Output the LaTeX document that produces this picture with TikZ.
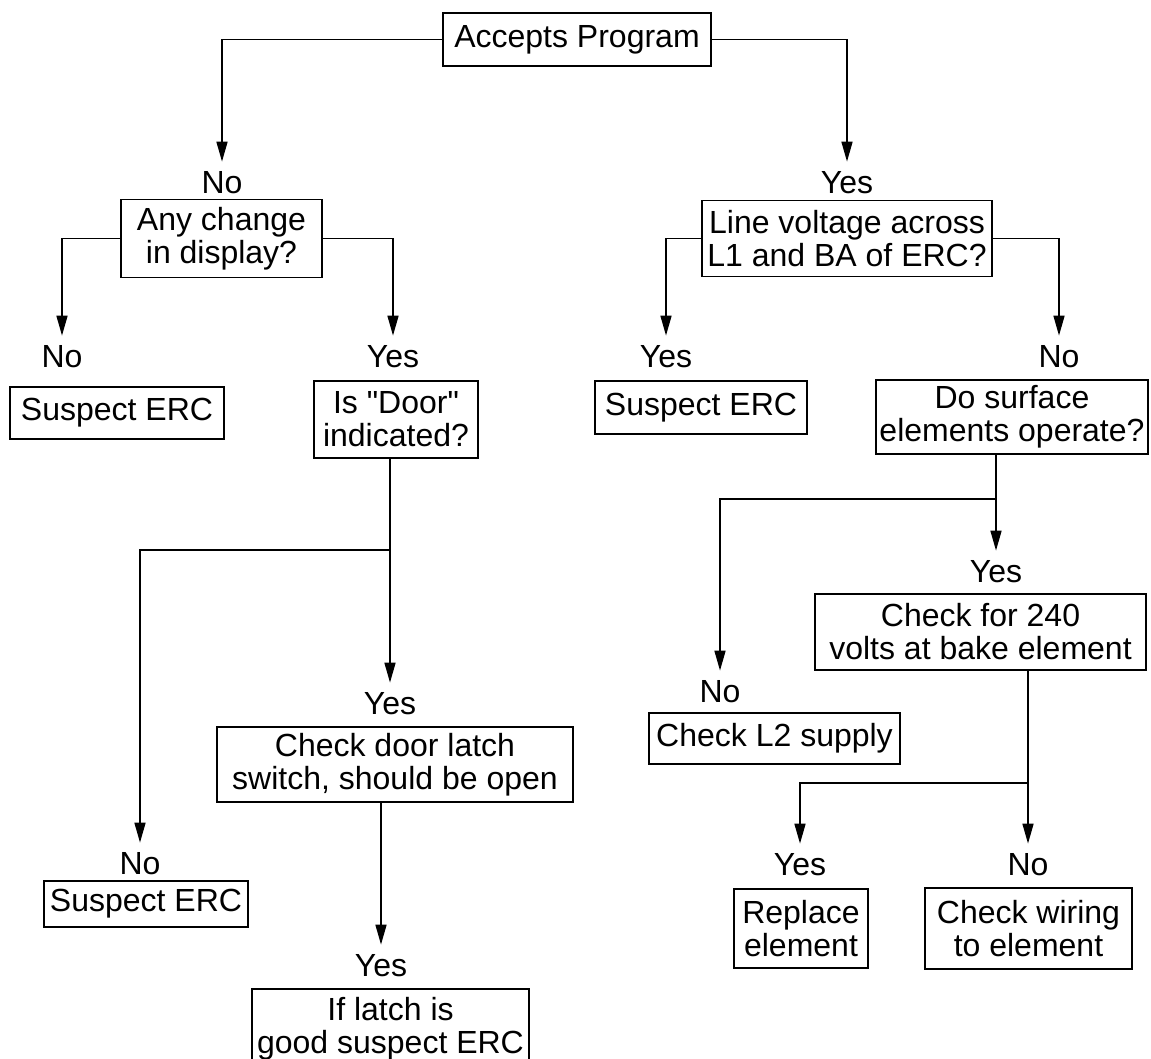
\documentclass[tikz,border=0pt]{standalone}
\usepackage{fontspec}
\setmainfont{Liberation Sans}[Ligatures=TeXOff]
\usetikzlibrary{arrows.meta,calc}
\newcommand\fs{\fontsize{32pt}{33pt}\selectfont}
\tikzset{
  box/.style={draw, line width=1.6pt, align=center, inner sep=0pt, font=\fs},
  lab/.style={inner sep=0pt, font=\fs},
  ln/.style={line width=1.6pt},
  arr/.style={line width=1.6pt, -{Triangle[length=20pt,width=11pt]}, shorten >=10pt},
}
\begin{document}
\begin{tikzpicture}[x=1pt,y=-1pt]
\useasboundingbox (0,0) rectangle (1151,1059);
% boxes
\node[box, minimum width=268pt, minimum height=53pt] (acc) at (577,39.5) {Accepts Program};
\node[box, minimum width=201pt, minimum height=78pt] (chg) at (221.5,238.5) {Any change\\in display?};
\node[box, minimum width=290pt, minimum height=76pt] (lv) at (847,238.5) {Line voltage across\\L1 and BA of ERC?};
\node[box, minimum width=214pt, minimum height=52pt] (se1) at (117,413) {Suspect ERC};
\node[box, minimum width=164pt, minimum height=77pt] (door) at (396,419.5) {Is "Door"\\indicated?};
\node[box, minimum width=212pt, minimum height=53pt] (se2) at (701,407.5) {Suspect ERC};
\node[box, minimum width=272pt, minimum height=74pt] (ds) at (1012,417) {Do surface\\elements operate?};
\node[box, minimum width=356pt, minimum height=75pt] (cdl) at (395,764.5) {Check door latch\\switch, should be open};
\node[box, minimum width=204pt, minimum height=46pt] (se3) at (146,904) {Suspect ERC};
\node[box, draw=none, minimum width=275pt, minimum height=64pt] (il) at (390.5,1029) {If latch is\\good suspect ERC};
\draw[ln] ($(il.north west)+(0,-7)$) rectangle ($(il.south east)+(0,30)$);
\node[box, minimum width=251pt, minimum height=51pt] (cl2) at (774.5,738.5) {Check L2 supply};
\node[box, minimum width=331pt, minimum height=76pt] (c240) at (980.5,632) {Check for 240\\volts at bake element};
\node[box, minimum width=134pt, minimum height=79pt] (rep) at (801,928.5) {Replace\\element};
\node[box, minimum width=207pt, minimum height=81pt] (cw) at (1028.5,928.5) {Check wiring\\to element};
% labels
\node[lab] (no1) at (222,183) {No};
\node[lab] (yes1) at (847,183) {Yes};
\node[lab] (no2) at (62,357) {No};
\node[lab] (yes2) at (393,357) {Yes};
\node[lab] (yes3) at (666,357) {Yes};
\node[lab] (no3) at (1059,357) {No};
\node[lab] (no4) at (140,864) {No};
\node[lab] (yes4) at (390,704) {Yes};
\node[lab] (yes5) at (381,966) {Yes};
\node[lab] (no5) at (720,692) {No};
\node[lab] (yes6) at (996,572) {Yes};
\node[lab] (yes7) at (800,865) {Yes};
\node[lab] (no6) at (1028,865) {No};
% branch points
\coordinate (b1) at (390,550);
\coordinate (b2) at (996,499);
\coordinate (b3) at (1028,783);
% connectors
\draw[arr] (acc.west) -| (no1.north);
\draw[arr] (acc.east) -| (yes1.north);
\draw[arr] (chg.west) -| (no2.north);
\draw[arr] (chg.east) -| (yes2.north);
\draw[arr] (lv.west) -| (yes3.north);
\draw[arr] (lv.east) -| (no3.north);
\draw[arr] (door.south -| yes4.north) -- (yes4.north);
\draw[arr] (b1) -| (no4.north);
\draw[arr] (cdl.south -| yes5.north) -- (yes5.north);
\draw[arr] (ds.south -| yes6.north) -- (yes6.north);
\draw[arr] (b2) -| (no5.north);
\draw[arr] (c240.south -| no6.north) -- (no6.north);
\draw[arr] (b3) -| (yes7.north);
\end{tikzpicture}
\end{document}
